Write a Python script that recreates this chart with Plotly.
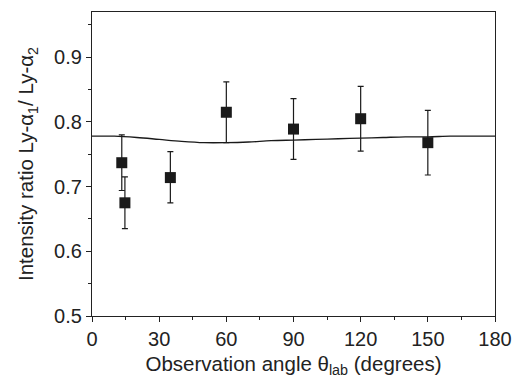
import plotly.graph_objects as go

# Measured data
angle = [13.3, 14.7, 35.0, 60.0, 90.0, 120.0, 150.0]
ratio = [0.737, 0.675, 0.714, 0.815, 0.789, 0.805, 0.768]
err_plus = [0.043, 0.040, 0.040, 0.047, 0.047, 0.050, 0.050]
err_minus = [0.043, 0.040, 0.039, 0.047, 0.047, 0.050, 0.050]

# Theory curve
theory_angle = [0, 10, 20, 30, 40, 50, 60, 70, 80, 90, 100, 110, 120, 130, 140, 150, 160, 170, 180]
theory_ratio = [0.778, 0.778, 0.776, 0.773, 0.770, 0.768, 0.768, 0.769, 0.771, 0.772,
                0.773, 0.774, 0.775, 0.776, 0.777, 0.777, 0.778, 0.778, 0.778]

x_ticks = [0, 30, 60, 90, 120, 150, 180]
y_ticks = [0.5, 0.6, 0.7, 0.8, 0.9]

fig = go.Figure()
fig.add_trace(go.Scatter(x=theory_angle, y=theory_ratio, mode="lines",
                         line=dict(color="#1a1a1a", width=1.3, shape="spline"),
                         showlegend=False))
fig.add_trace(go.Scatter(x=angle, y=ratio, mode="markers",
                         marker=dict(symbol="square", size=11, color="#1a1a1a"),
                         error_y=dict(type="data", array=err_plus, arrayminus=err_minus,
                                      color="#1a1a1a", thickness=1.2, width=3),
                         showlegend=False))

fam = "Liberation Sans, Arial, sans-serif"
fig.update_layout(
    width=513, height=372,
    margin=dict(l=84, r=26, t=4, b=64),
    paper_bgcolor="white", plot_bgcolor="white",
    font=dict(family=fam, size=20, color="#222"),
    xaxis=dict(range=[0, 180], tickvals=x_ticks, ticks="outside", ticklen=5,
               tickcolor="#222", linecolor="#222", linewidth=1.2, mirror=True,
               showgrid=False, zeroline=False,
               tickfont=dict(size=20),
               minor=dict(dtick=15, ticks="outside", ticklen=3, tickcolor="#222"),
               title=dict(text="Observation angle θ<sub>lab</sub> (degrees)",
                          font=dict(size=20.5), standoff=7)),
    yaxis=dict(range=[0.5, 0.97], tickvals=y_ticks, tickformat=".1f", ticks="outside",
               ticklen=5, tickcolor="#222", linecolor="#222", linewidth=1.2, mirror=True,
               showgrid=False, zeroline=False,
               tickfont=dict(size=20),
               minor=dict(dtick=0.05, ticks="outside", ticklen=3, tickcolor="#222"),
               title=dict(text="Intensity ratio Ly-α<sub>1</sub>/ Ly-α<sub>2</sub>",
                          font=dict(size=20.5), standoff=14)),
)
fig.write_html("out.html")
